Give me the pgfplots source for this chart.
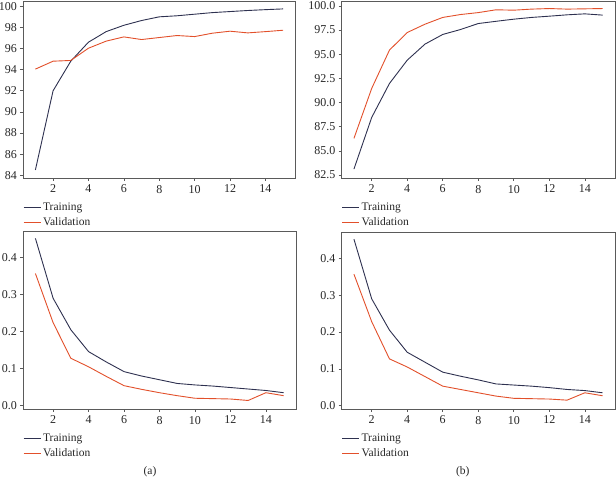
\documentclass[border=0pt]{standalone}
\usepackage{fontspec}
\setmainfont{Liberation Serif}
\usepackage{pgfplots}
\pgfplotsset{compat=1.18}
\definecolor{trainc}{HTML}{2E3150}
\definecolor{valc}{HTML}{E2502B}
\definecolor{framec}{HTML}{5A5A5A}
\pgfplotsset{
  myax/.style={
    scale only axis,
    anchor=south west,
    xmin=0.3, xmax=15.7,
    xtick={2,4,...,14},
    axis line style={framec, line width=0.7pt},
    tick style={framec, line width=0.6pt},
    tick align=outside,
    tick pos=left,
    major tick length=3pt,
    /pgf/number format/assume math mode=true,
    ticklabel style={font=\fontsize{12}{13}\selectfont, text=black!85},
    xticklabel style={yshift=-0.5pt},
    yticklabel style={xshift=0.5pt},
    legend style={draw=none, fill=none, at={(0,-0.128)}, anchor=north west,
      inner xsep=0pt, inner ysep=0pt, font=\fontsize{11.5}{13}\selectfont,
      row sep=1.5pt, text=black!85},
    legend cell align=left,
    legend image code/.code={\draw[#1] (0pt,0pt) -- (17pt,0pt);},
    every axis plot/.append style={line width=0.9pt},
  }
}
\pgfplotstableread{
x train val
1 84.50 94.05
2 92.00 94.80
3 94.80 94.87
4 96.60 96.03
5 97.60 96.70
6 98.20 97.10
7 98.65 96.85
8 99.00 97.04
9 99.10 97.23
10 99.25 97.13
11 99.40 97.45
12 99.50 97.64
13 99.60 97.48
14 99.68 97.60
15 99.75 97.73
}\accA
\pgfplotstableread{
x train val
1 83.12 86.29
2 88.46 91.46
3 91.97 95.42
4 94.38 97.24
5 96.04 98.10
6 97.04 98.80
7 97.55 99.10
8 98.17 99.30
9 98.40 99.59
10 98.62 99.55
11 98.80 99.66
12 98.93 99.72
13 99.07 99.66
14 99.17 99.69
15 99.04 99.72
}\accB
\pgfplotstableread{
x train val
1 0.452 0.357
2 0.290 0.224
3 0.205 0.128
4 0.146 0.105
5 0.118 0.079
6 0.092 0.054
7 0.080 0.044
8 0.070 0.035
9 0.060 0.027
10 0.056 0.020
11 0.053 0.019
12 0.049 0.018
13 0.045 0.014
14 0.041 0.035
15 0.035 0.027
}\lossA
\pgfplotstableread{
x train val
1 0.452 0.357
2 0.290 0.228
3 0.205 0.127
4 0.145 0.105
5 0.118 0.079
6 0.091 0.053
7 0.080 0.044
8 0.070 0.035
9 0.059 0.026
10 0.056 0.020
11 0.053 0.019
12 0.049 0.018
13 0.044 0.015
14 0.041 0.035
15 0.035 0.027
}\lossB
\begin{document}
\begin{tikzpicture}
\path[use as bounding box] (0pt,0pt) rectangle (616pt,478pt);
% top left
\begin{axis}[myax, at={(23pt,300pt)}, width=272.5pt, height=177pt,
  ymin=83.74, ymax=100.5, ytick={84,86,...,100}]
\addplot[trainc] table[x=x,y=train] {\accA};
\addlegendentry{Training}
\addplot[valc] table[x=x,y=val] {\accA};
\addlegendentry{Validation}
\end{axis}
% top right
\begin{axis}[myax, at={(341.5pt,300pt)}, width=273.5pt, height=177pt,
  ymin=82.2, ymax=100.5, ytick={82.5,85,...,100},
  yticklabel style={/pgf/number format/.cd, fixed, fixed zerofill, precision=1}]
\addplot[trainc] table[x=x,y=train] {\accB};
\addlegendentry{Training}
\addplot[valc] table[x=x,y=val] {\accB};
\addlegendentry{Validation}
\end{axis}
% bottom left
\begin{axis}[myax, at={(23pt,69pt)}, width=273pt, height=177.3pt,
  ymin=-0.009, ymax=0.470, ytick={0,0.1,...,0.41},
  yticklabel style={/pgf/number format/.cd, fixed, fixed zerofill, precision=1}]
\addplot[trainc] table[x=x,y=train] {\lossA};
\addlegendentry{Training}
\addplot[valc] table[x=x,y=val] {\lossA};
\addlegendentry{Validation}
\end{axis}
% bottom right
\begin{axis}[myax, at={(341.5pt,69pt)}, width=273.5pt, height=176.5pt,
  ymin=-0.009, ymax=0.470, ytick={0,0.1,...,0.41},
  yticklabel style={/pgf/number format/.cd, fixed, fixed zerofill, precision=1}]
\addplot[trainc] table[x=x,y=train] {\lossB};
\addlegendentry{Training}
\addplot[valc] table[x=x,y=val] {\lossB};
\addlegendentry{Validation}
\end{axis}
\node[font=\fontsize{11.5}{13}\selectfont, text=black!85] at (150pt,6pt) {(a)};
\node[font=\fontsize{11.5}{13}\selectfont, text=black!85] at (462.7pt,6pt) {(b)};
\end{tikzpicture}
\end{document}
